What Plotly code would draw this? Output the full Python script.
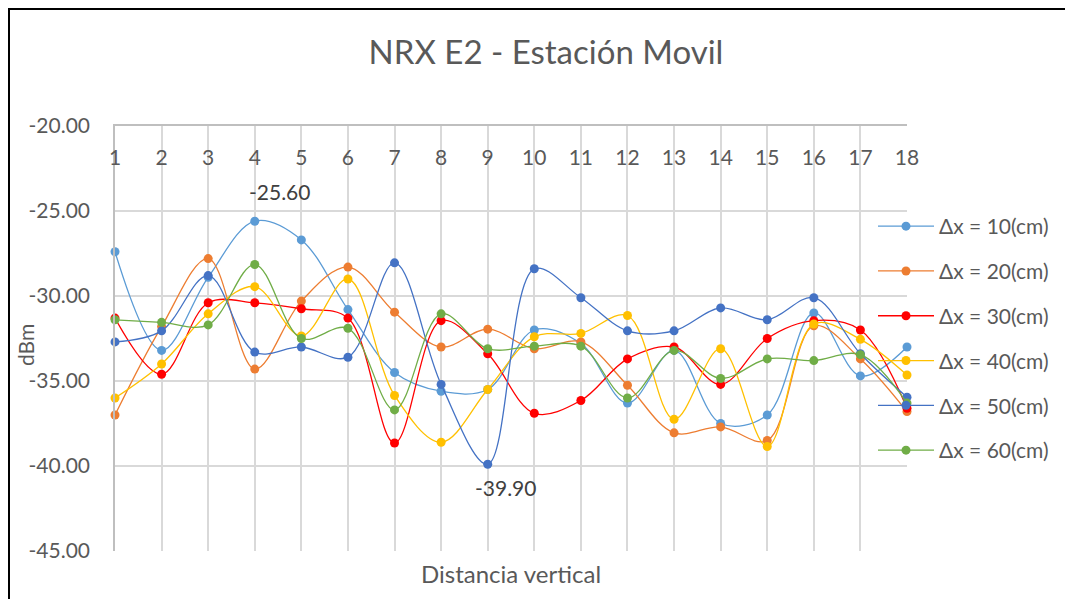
import plotly.graph_objects as go

# ---- data ----
distancia = list(range(1, 19))
series_names = ["Δx = 10(cm)", "Δx = 20(cm)", "Δx = 30(cm)", "Δx = 40(cm)", "Δx = 50(cm)", "Δx = 60(cm)"]
dx10 = [-27.4, -33.2, -28.9, -25.6, -26.7, -30.8, -34.5, -35.6, -35.5, -32.0, -32.8, -36.3, -33.2, -37.5, -37.0, -31.0, -34.7, -33.0]
dx20 = [-37.0, -31.8, -27.8, -34.3, -30.3, -28.3, -30.95, -33.0, -31.95, -33.1, -32.7, -35.25, -38.05, -37.7, -38.5, -31.75, -33.7, -36.8]
dx30 = [-31.3, -34.6, -30.4, -30.4, -30.75, -31.3, -38.65, -31.45, -33.4, -36.9, -36.15, -33.7, -33.0, -35.2, -32.5, -31.45, -32.0, -36.6]
dx40 = [-36.0, -34.0, -31.05, -29.45, -32.35, -29.0, -35.85, -38.6, -35.5, -32.4, -32.2, -31.15, -37.25, -33.1, -38.85, -31.65, -32.55, -34.65]
dx50 = [-32.7, -32.05, -28.8, -33.3, -33.0, -33.6, -28.05, -35.2, -39.9, -28.4, -30.1, -32.05, -32.05, -30.7, -31.4, -30.1, -33.4, -35.95]
dx60 = [-31.4, -31.55, -31.7, -28.15, -32.5, -31.9, -36.7, -31.05, -33.1, -32.95, -32.95, -36.0, -33.2, -34.85, -33.7, -33.8, -33.45, -36.3]
colors = ["#5B9BD5", "#ED7D31", "#FF0000", "#FFC000", "#4472C4", "#70AD47"]
all_series = [dx10, dx20, dx30, dx40, dx50, dx60]
y_ticks = [-45, -40, -35, -30, -25, -20]
y_ticktext = [f"{v:.2f}" for v in y_ticks]

FONT = "Lato"
TXT = "#595959"

# page offset (default body margin) and figure size
OFF = 8
W, H = 1073 - OFF, 599 - OFF
# plot area in screen pixels (reference)
L, R, T, B = 115, 907, 126, 551
def px(x):
    return (x - L) / (R - L)
def py(y):
    return (B - y) / (B - T)

fig = go.Figure()
for i, (name, vals, col) in enumerate(zip(series_names, all_series, colors)):
    fig.add_trace(go.Scatter(
        x=distancia, y=vals, name=name, mode="lines+markers",
        line=dict(color=col, width=1.3, shape="spline", smoothing=1.0),
        marker=dict(color=col, size=9),
        cliponaxis=False, legendgroup=f"g{i}",
    ))

# data labels: max of Δx=10 and min of Δx=50
i_max = dx10.index(max(dx10))
i_min = dx50.index(min(dx50))
fig.add_annotation(x=distancia[i_max], y=dx10[i_max], text=f"{dx10[i_max]:.2f}",
                   showarrow=False, xshift=25, yshift=30,
                   font=dict(family=FONT, size=21, color="#404040"))
fig.add_annotation(x=distancia[i_min], y=dx50[i_min], text=f"{dx50[i_min]:.2f}",
                   showarrow=False, xshift=18, yshift=-23,
                   font=dict(family=FONT, size=21, color="#404040"))

# axis titles
fig.add_annotation(xref="paper", yref="paper", x=px(511), y=py(573), text="Distancia vertical",
                   xanchor="center", yanchor="middle",
                   showarrow=False, font=dict(family=FONT, size=24, color=TXT))
fig.add_annotation(xref="paper", yref="paper", x=px(25), y=py(345), text="dBm", textangle=-90,
                   xanchor="center", yanchor="middle",
                   showarrow=False, font=dict(family=FONT, size=21, color=TXT))

# chart border
fig.add_shape(type="rect", xref="paper", yref="paper",
              x0=px(OFF + 1), x1=px(1100), y0=py(620), y1=py(OFF + 1),
              line=dict(color="black", width=2), layer="below")

fig.update_layout(
    width=W, height=H,
    margin=dict(l=L - OFF, r=(W + OFF) - R, t=T - OFF, b=(H + OFF) - B, autoexpand=False),
    paper_bgcolor="white", plot_bgcolor="white",
    font=dict(family=FONT, color=TXT),
    title=dict(text="NRX E2 - Estación Movil", x=(546 - OFF) / W, xanchor="center",
               y=1 - (52 - OFF) / H, yanchor="middle",
               font=dict(family=FONT, size=33, color=TXT)),
    showlegend=True,
    legend=dict(x=px(873), y=py(206), xanchor="left", yanchor="top",
                font=dict(family=FONT, size=21, color=TXT),
                tracegroupgap=14.5, itemwidth=56, bgcolor="rgba(0,0,0,0)"),
)
fig.update_xaxes(
    range=[1, 18], tickvals=distancia, ticktext=[str(v) for v in distancia],
    side="top", ticklabelposition="inside", ticks="", ticklabelstandoff=26,
    ticklabeloverflow="allow",
    showgrid=True, gridcolor="#D9D9D9", gridwidth=1.5,
    showline=True, linecolor="#BFBFBF", linewidth=1.5,
    tickfont=dict(family=FONT, size=21, color=TXT), zeroline=False,
)
fig.update_yaxes(
    range=[-45, -20], tickvals=y_ticks, ticktext=y_ticktext,
    showgrid=True, gridcolor="#D9D9D9", gridwidth=1.5,
    showline=True, linecolor="#BFBFBF", linewidth=1.5,
    ticks="", ticklabelstandoff=19, ticklabeloverflow="allow",
    tickfont=dict(family=FONT, size=21, color=TXT), zeroline=False,
)

fig.write_html("out.html")
